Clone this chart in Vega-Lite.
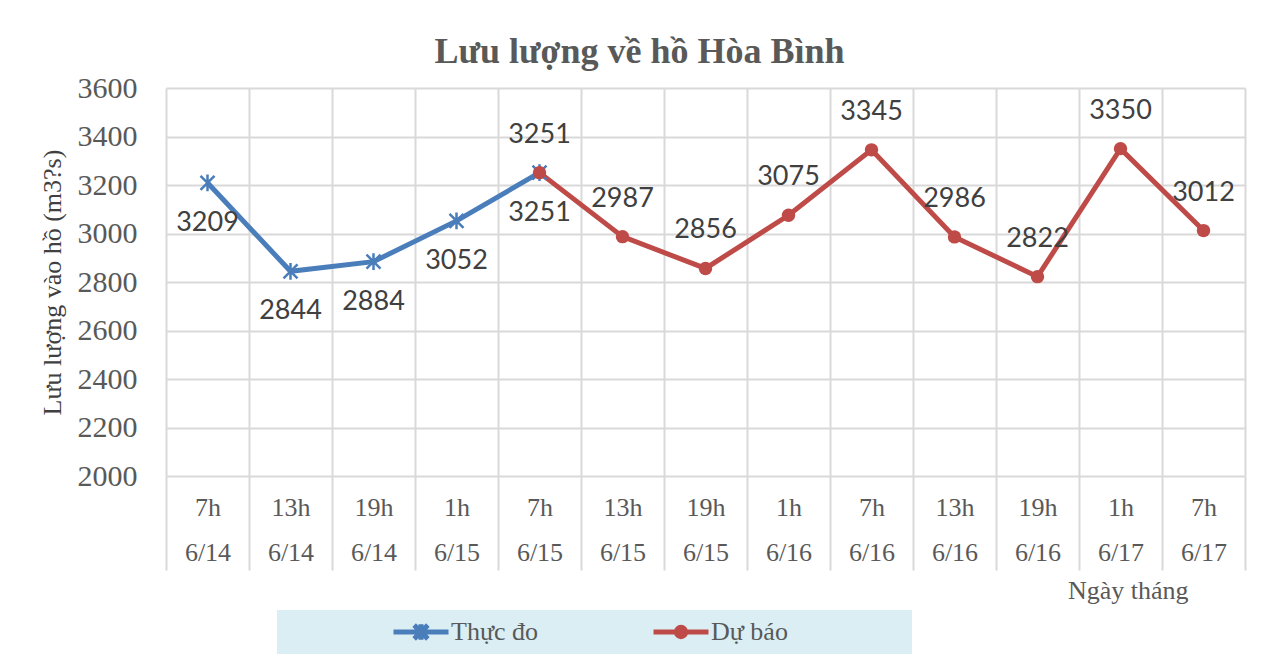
{
  "$schema": "https://vega.github.io/schema/vega-lite/v6.json",
  "width": 1079,
  "height": 388,
  "autosize": {"type": "none"},
  "padding": {"left": 166, "top": 88, "right": 27, "bottom": 186},
  "background": "white",
  "title": {
    "text": "Lưu lượng về hồ Hòa Bình",
    "font": "Liberation Serif",
    "fontSize": 36,
    "fontWeight": "bold",
    "color": "#595959",
    "anchor": "middle",
    "dx": -66,
    "dy": 52,
    "offset": 26,
    "baseline": "alphabetic"
  },
  "data": {
    "values": [
      {"t": "7h|6/14", "s": "Thực đo", "v": 3209},
      {"t": "13h|6/14", "s": "Thực đo", "v": 2844},
      {"t": "19h|6/14", "s": "Thực đo", "v": 2884},
      {"t": "1h|6/15", "s": "Thực đo", "v": 3052},
      {"t": "7h|6/15", "s": "Thực đo", "v": 3251},
      {"t": "7h|6/15", "s": "Dự báo", "v": 3251},
      {"t": "13h|6/15", "s": "Dự báo", "v": 2987},
      {"t": "19h|6/15", "s": "Dự báo", "v": 2856},
      {"t": "1h|6/16", "s": "Dự báo", "v": 3075},
      {"t": "7h|6/16", "s": "Dự báo", "v": 3345},
      {"t": "13h|6/16", "s": "Dự báo", "v": 2986},
      {"t": "19h|6/16", "s": "Dự báo", "v": 2822},
      {"t": "1h|6/17", "s": "Dự báo", "v": 3350},
      {"t": "7h|6/17", "s": "Dự báo", "v": 3012}
    ]
  },
  "encoding": {
    "x": {
      "field": "t",
      "type": "ordinal",
      "scale": {
        "type": "band",
        "paddingInner": 0,
        "paddingOuter": 0,
        "domain": ["7h|6/14", "13h|6/14", "19h|6/14", "1h|6/15", "7h|6/15", "13h|6/15", "19h|6/15", "1h|6/16", "7h|6/16", "13h|6/16", "19h|6/16", "1h|6/17", "7h|6/17"]
      },
      "axis": {
        "title": "Ngày tháng",
        "titleFont": "Liberation Serif",
        "titleFontSize": 26,
        "titleFontWeight": "normal",
        "titleColor": "#595959",
        "titleX": 1022,
        "titleY": 122,
        "titleAlign": "right",
        "titleBaseline": "alphabetic",
        "tickBand": "extent",
        "grid": true,
        "gridColor": "#d9d9d9",
        "gridWidth": 2,
        "ticks": true,
        "tickSize": 94,
        "tickColor": "#d9d9d9",
        "tickWidth": 2,
        "domain": false,
        "labelAngle": 0,
        "labelExpr": "split(datum.label, '|')",
        "labelFont": "Liberation Serif",
        "labelFontSize": 26,
        "labelColor": "#595959",
        "labelLineHeight": 45,
        "labelBaseline": "middle",
        "labelPadding": -63
      }
    },
    "y": {
      "field": "v",
      "type": "quantitative",
      "scale": {"domain": [2000, 3600], "nice": false, "zero": false},
      "axis": {
        "title": "Lưu lượng vào hồ (m3?s)",
        "titleFont": "Liberation Serif",
        "titleFontSize": 26,
        "titleFontWeight": "normal",
        "titleColor": "#404040",
        "titleX": -114,
        "titleY": 194,
        "titleAngle": -90,
        "titleAlign": "center",
        "titleBaseline": "middle",
        "values": [2000, 2200, 2400, 2600, 2800, 3000, 3200, 3400, 3600],
        "format": "d",
        "grid": true,
        "gridColor": "#d9d9d9",
        "gridWidth": 2,
        "ticks": false,
        "domain": false,
        "labelFont": "Liberation Serif",
        "labelFontSize": 30,
        "labelColor": "#595959",
        "labelPadding": 29
      }
    }
  },
  "layer": [
    {
      "mark": {"type": "line", "strokeWidth": 5},
      "encoding": {
        "color": {
          "field": "s",
          "type": "nominal",
          "scale": {"domain": ["Thực đo", "Dự báo"], "range": ["#4a7ebb", "#be4b48"]},
          "legend": {
            "title": " ",
            "titleOrient": "right",
            "titlePadding": 115,
            "orient": "none",
            "legendX": 111,
            "legendY": 522,
            "direction": "horizontal",
            "fillColor": "#dbeef4",
            "padding": 9,
            "clipHeight": 26,
            "symbolOffset": 105,
            "labelOffset": 0,
            "columnPadding": 7,
            "labelFont": "Liberation Serif",
            "labelFontSize": 26,
            "labelColor": "#595959",
            "symbolSize": 3025,
            "symbolStrokeWidth": 5,
            "encode": {
              "symbols": {
                "update": {
                  "shape": {"signal": "datum.value === 'Thực đo' ? 'M-1,0H1M-0.25,-0.25L0.25,0.25M-0.25,0.25L0.25,-0.25M0,-0.28V0.28' : 'M-1,0H1M0.17,0A0.17,0.17,0,1,1,-0.17,0A0.17,0.17,0,1,1,0.17,0Z'"},
                  "fill": {"signal": "datum.value === 'Thực đo' ? 'transparent' : '#be4b48'"},
                  "strokeWidth": {"value": 5}
                }
              }
            }
          }
        }
      }
    },
    {
      "transform": [{"filter": "datum.s === 'Thực đo'"}],
      "mark": {
        "type": "point",
        "shape": "M-1,-1L1,1M-1,1L1,-1M0,-1.2L0,1.2",
        "filled": false,
        "color": "#4a7ebb",
        "strokeWidth": 2.5,
        "size": 196,
        "opacity": 1
      }
    },
    {
      "transform": [{"filter": "datum.s === 'Dự báo'"}],
      "mark": {"type": "circle", "color": "#be4b48", "size": 180, "opacity": 1}
    },
    {
      "transform": [{"filter": "datum.s === 'Thực đo'"}],
      "mark": {"type": "text", "font": "Lato", "fontSize": 27, "color": "#404040", "dy": 40, "baseline": "middle"},
      "encoding": {"text": {"field": "v", "type": "quantitative", "format": "d"}}
    },
    {
      "transform": [{"filter": "datum.s === 'Dự báo'"}],
      "mark": {"type": "text", "font": "Lato", "fontSize": 27, "color": "#404040", "dy": -38, "baseline": "middle"},
      "encoding": {"text": {"field": "v", "type": "quantitative", "format": "d"}}
    }
  ],
  "config": {
    "view": {"stroke": null}
  }
}
